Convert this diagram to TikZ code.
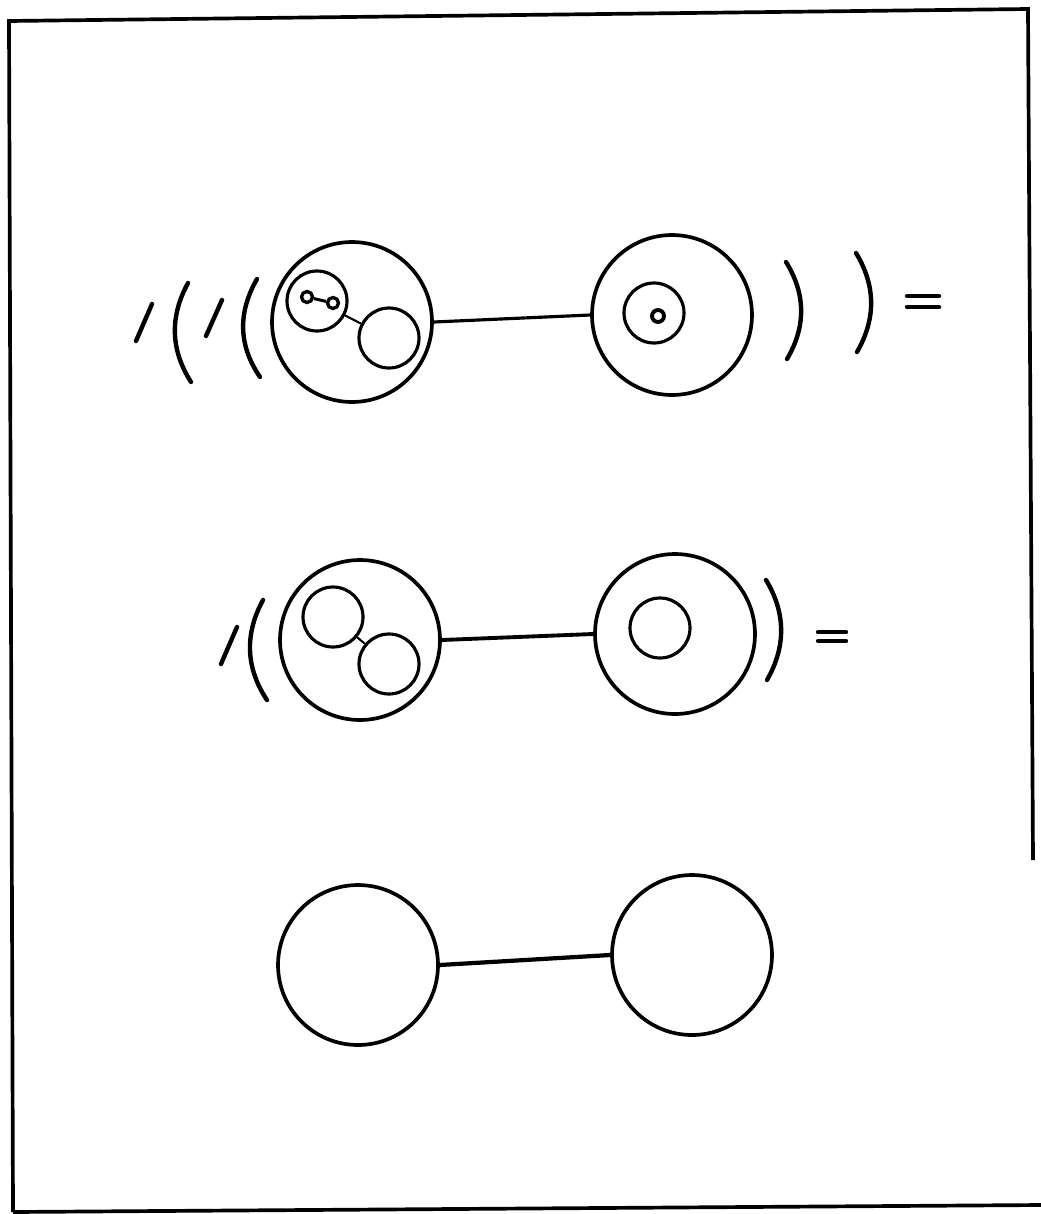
\documentclass[tikz,border=0pt]{standalone}
\usetikzlibrary{positioning}

\begin{document}
\begin{tikzpicture}[
    x=0.02cm, y=-0.02cm,
    base/.style={draw, circle, inner sep=0pt, line width=2.1pt},
    shell/.style={base, minimum size=3.2cm},
    core/.style={base, minimum size=1.2cm, line width=1.8pt},
    dot/.style={base, minimum size=0.22cm, line width=1.9pt},
    bond/.style={line width=1.8pt},
    link/.style={line width=1.2pt},
    wave/.style={line width=2.5pt, line cap=round},
    frame/.style={line width=2.1pt}
]
    \useasboundingbox (0,0) rectangle (1041,1214);

    \draw [frame] (13,1212) -- (9,21) -- (1028,9) -- (1033,860);
    \draw [frame] (13,1212) -- (1041,1205);

    \node [shell] (outerA) at (352,322) {};
    \node [core] (innerA) at (317,301) {};
    \node [core] (innerB) at (389,338) {};
    \node [dot] (dotA) at (307,297) {};
    \node [dot] (dotB) at (333,303) {};
    \node [shell] (outerB) at (672,315) {};
    \node [core] (innerC) at (654,313) {};
    \node [dot, minimum size=0.24cm, line width=2.2pt] (dotC) at (658,316) {};

    \node [shell] (midA) at (360,640) {};
    \node [core] (midInA) at (333,617) {};
    \node [core] (midInB) at (389,664) {};
    \node [shell] (midB) at (675,634) {};
    \node [core] (midInC) at (660,628) {};

    \node [shell] (lowA) at (358,965) {};
    \node [shell] (lowB) at (692,955) {};


    \draw [bond] (outerA.east) -- (outerB.west);
    \draw [link] (innerA) -- (innerB);
    \draw [link, line width=1.7pt] (dotA) -- (dotB);

    \draw [bond, line width=2.2pt] (midA.east) -- (midB.west);
    \draw [link] (midInA) -- (midInB);

    \draw [bond, line width=2.4pt] (lowA.east) -- (lowB.west);

    \draw [wave] (136,341) -- (152,304);
    \draw [wave] (188,283) .. controls (170,316) and (170,349) .. (191,382);
    \draw [wave] (206,336) -- (222,300);
    \draw [wave] (257,279) .. controls (238,312) and (238,345) .. (260,377);
    \draw [wave] (786,262) .. controls (806,294) and (806,327) .. (787,359);
    \draw [wave] (856,253) .. controls (876,286) and (876,319) .. (857,352);
    \draw [wave] (907,296) -- (939,296);
    \draw [wave] (907,307) -- (939,307);

    \draw [wave] (221,664) -- (237,627);
    \draw [wave] (263,600) .. controls (245,633) and (245,667) .. (267,700);
    \draw [wave] (766,580) .. controls (786,613) and (786,647) .. (767,680);
    \draw [wave] (818,632) -- (846,632);
    \draw [wave] (818,641) -- (846,641);

\end{tikzpicture}
\end{document}
